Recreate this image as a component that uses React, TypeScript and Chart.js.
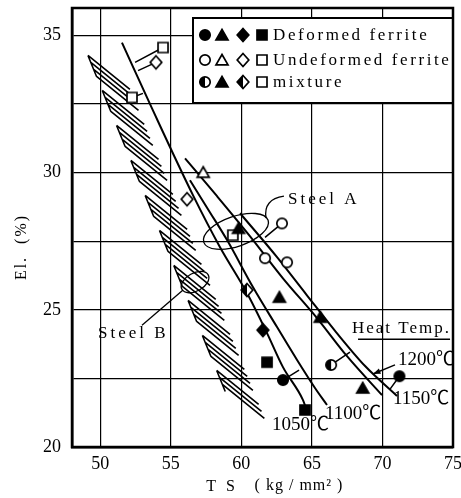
import React, { useEffect, useRef } from 'react';
import { Chart, registerables } from 'chart.js';
Chart.register(...registerables);

const FONT = '"Liberation Serif", "Times New Roman", serif';
const CJK = '"Liberation Serif", "Noto Sans CJK JP", serif';

// ---- axes ----
const TS_MIN = 48;
const TS_MAX = 75;
const EL_MIN = 20;
const EL_MAX = 36;
const TS_TICKS = [50, 55, 60, 65, 70, 75];
const EL_GRID = [20, 22.5, 25, 27.5, 30, 32.5, 35];
const EL_TICKS = [20, 25, 30, 35];

// ---- heat-temperature curves (TS, El.) ----
const C1050_TS = [51.54, 53.67, 56.58, 58.49, 60.4, 61.82, 62.95, 64.37, 64.58];
const C1050_EL = [34.74, 32.34, 29.17, 27.28, 25.61, 24.15, 22.91, 21.71, 21.42];
const C1100_TS = [56.36, 57.78, 58.99, 60.83, 62.53, 63.95, 65.22, 66.07];
const C1100_EL = [29.72, 28.55, 27.54, 25.82, 24.37, 23.17, 22.15, 21.53];
const C1150_TS = [56.01, 58.28, 60.62, 62.95, 65.36, 67.49, 69.97];
const C1150_EL = [30.52, 29.14, 27.68, 26.15, 24.7, 23.31, 21.89];
const C1200_TS = [59.91, 62.53, 64.65, 66.71, 68.77, 71.03];
const C1200_EL = [28.52, 26.92, 25.53, 24.19, 22.95, 21.86];

// ---- Steel B band (left / right edges, top & bottom) ----
const BAND_LEFT_TS = [49.13, 59.69];
const BAND_LEFT_EL = [34.27, 20.98];
const BAND_RIGHT_TS = [51.12, 61.68];
const BAND_RIGHT_EL = [34.27, 20.98];

// ---- measured points ----
const DEF_CIRCLE_TS = [62.95, 71.2];
const DEF_CIRCLE_EL = [22.44, 22.58];
const DEF_TRI_TS = [59.8, 62.7, 65.6, 68.6];
const DEF_TRI_EL = [27.97, 25.46, 24.73, 22.15];
const DEF_DIAM_TS = [61.53];
const DEF_DIAM_EL = [24.26];
const DEF_SQ_TS = [61.82, 64.51];
const DEF_SQ_EL = [23.09, 21.35];

const UND_CIRCLE_TS = [62.88, 61.68, 63.24];
const UND_CIRCLE_EL = [28.15, 26.88, 26.73];
const UND_TRI_TS = [57.3];
const UND_TRI_EL = [30.01];
const UND_DIAM_TS = [53.95, 56.15];
const UND_DIAM_EL = [34.02, 29.03];
const UND_SQ_TS = [54.45, 52.25, 59.4];
const UND_SQ_EL = [34.56, 32.74, 27.72];

const MIX_CIRCLE_TS = [66.36];
const MIX_CIRCLE_EL = [22.99];
const MIX_DIAM_TS = [60.4];
const MIX_DIAM_EL = [25.72];

// ---- short connectors from points to curves ----
const STEM_FROM_TS = [54.45, 53.95, 52.25, 62.88, 66.36, 71.2, 62.95];
const STEM_FROM_EL = [34.56, 34.02, 32.74, 28.15, 22.99, 22.58, 22.44];
const STEM_TO_TS = [52.47, 52.68, 53.03, 61.68, 67.7, 70.54, 64.09];
const STEM_TO_EL = [34.02, 33.72, 32.89, 27.64, 23.46, 22.11, 22.8];

// ---- annotations ----
const LEGEND_LABELS = ['Deformed ferrite', 'Undeformed ferrite', 'mixture'];
const TEMP_LABELS = ['1050℃', '1100℃', '1150℃', '1200℃'];
const TEMP_LABEL_TS = [62.17, 65.93, 70.75, 71.1];
const TEMP_LABEL_EL = [20.8, 21.2, 21.75, 23.17];
const HEAT_LABEL = 'Heat Temp.';
const HEAT_TS = 67.84;
const HEAT_EL = 24.3;
const HEAT_LINE_TS = [68.27, 74.79];
const HEAT_LINE_EL = 23.93;
const ARROW_TS = [70.89, 69.33];
const ARROW_EL = [22.99, 22.66];
const STEEL_A = 'Steel A';
const STEEL_A_TS = 63.31;
const STEEL_A_EL = 29.03;
const STEEL_A_ELLIPSE = [59.62, 27.86];
const STEEL_A_LEADER_TS = [63.02, 61.54, 61.75];
const STEEL_A_LEADER_EL = [29.14, 29.03, 28.34];
const STEEL_B = 'Steel B';
const STEEL_B_TS = 49.84;
const STEEL_B_EL = 24.15;
const STEEL_B_ELLIPSE = [56.72, 26.01];
const STEEL_B_LEADER_TS = [52.96, 55.87];
const STEEL_B_LEADER_EL = [24.44, 25.72];
const X_TITLE_A = 'T S';
const X_TITLE_B = '( kg / mm² )';
const Y_TITLE = 'El.  (%)';

type Shape = 'circle' | 'triangle' | 'diamond' | 'square';
type Fill = 'full' | 'open' | 'half';

function shapePath(ctx: CanvasRenderingContext2D, shape: Shape, c: number) {
  ctx.beginPath();
  if (shape === 'circle') {
    ctx.arc(c, c, 5.2, 0, Math.PI * 2);
  } else if (shape === 'triangle') {
    ctx.moveTo(c, c - 5.5);
    ctx.lineTo(c + 6, c + 4.8);
    ctx.lineTo(c - 6, c + 4.8);
    ctx.closePath();
  } else if (shape === 'diamond') {
    ctx.moveTo(c, c - 6.5);
    ctx.lineTo(c + 5.8, c);
    ctx.lineTo(c, c + 6.5);
    ctx.lineTo(c - 5.8, c);
    ctx.closePath();
  } else {
    ctx.rect(c - 5, c - 5, 10, 10);
  }
}

function makeMarker(shape: Shape, fill: Fill): HTMLCanvasElement {
  const s = 18;
  const c = s / 2;
  const cv = document.createElement('canvas');
  cv.width = s;
  cv.height = s;
  const ctx = cv.getContext('2d')!;
  ctx.lineWidth = 1.7;
  ctx.strokeStyle = '#000';
  shapePath(ctx, shape, c);
  ctx.fillStyle = fill === 'full' ? '#000' : '#fff';
  ctx.fill();
  if (fill === 'half') {
    ctx.save();
    ctx.beginPath();
    ctx.rect(0, 0, c, s);
    ctx.clip();
    shapePath(ctx, shape, c);
    ctx.fillStyle = '#000';
    ctx.fill();
    ctx.restore();
  }
  shapePath(ctx, shape, c);
  ctx.stroke();
  return cv;
}

const zip = (xs: number[], ys: number[]) => xs.map((x, i) => ({ x, y: ys[i] }));

export default function App() {
  const ref = useRef<HTMLCanvasElement>(null);

  useEffect(() => {
    const canvas = ref.current!;
    const M = {
      dc: makeMarker('circle', 'full'),
      dt: makeMarker('triangle', 'full'),
      dd: makeMarker('diamond', 'full'),
      ds: makeMarker('square', 'full'),
      oc: makeMarker('circle', 'open'),
      ot: makeMarker('triangle', 'open'),
      od: makeMarker('diamond', 'open'),
      os: makeMarker('square', 'open'),
      hc: makeMarker('circle', 'half'),
      hd: makeMarker('diamond', 'half'),
    };

    const curve = (ts: number[], el: number[]) => ({
      data: zip(ts, el),
      showLine: true,
      borderColor: '#000',
      borderWidth: 2,
      pointRadius: 0,
      cubicInterpolationMode: 'monotone' as const,
      fill: false,
      order: 2,
    });
    const pts = (ts: number[], el: number[], img: HTMLCanvasElement) => ({
      data: zip(ts, el),
      showLine: false,
      pointStyle: img,
      pointRadius: 6,
      order: 0,
    });

    const decor = {
      id: 'decor',
      beforeDatasetsDraw(chart: any) {
        const { ctx, scales } = chart;
        const X = (v: number) => scales.x.getPixelForValue(v);
        const Y = (v: number) => scales.y.getPixelForValue(v);
        ctx.save();
        ctx.strokeStyle = '#000';
        // hatched band (Steel B)
        const l0 = [X(BAND_LEFT_TS[0]), Y(BAND_LEFT_EL[0])];
        const l1 = [X(BAND_LEFT_TS[1]), Y(BAND_LEFT_EL[1])];
        const r0 = [X(BAND_RIGHT_TS[0]), Y(BAND_RIGHT_EL[0])];
        const r1 = [X(BAND_RIGHT_TS[1]), Y(BAND_RIGHT_EL[1])];
        const lx = (py: number) => l0[0] + ((l1[0] - l0[0]) * (py - l0[1])) / (l1[1] - l0[1]);
        const rx = (py: number) => r0[0] + ((r1[0] - r0[0]) * (py - r0[1])) / (r1[1] - r0[1]);
        ctx.lineWidth = 1.6;
        ctx.beginPath();
        const drop = 34;
        let k = 0;
        for (let py = l0[1]; py + drop <= l1[1] + 2; py += 7, k++) {
          if (k % 5 === 4) continue;
          ctx.moveTo(lx(py), py);
          ctx.lineTo(rx(py + drop), py + drop);
          if (k % 5 === 0) {
            ctx.moveTo(lx(py), py);
            ctx.lineTo(lx(py + 21), py + 21);
          }
        }
        ctx.stroke();
        // connectors
        ctx.lineWidth = 1.5;
        ctx.beginPath();
        STEM_FROM_TS.forEach((_, i) => {
          ctx.moveTo(X(STEM_FROM_TS[i]), Y(STEM_FROM_EL[i]));
          ctx.lineTo(X(STEM_TO_TS[i]), Y(STEM_TO_EL[i]));
        });
        ctx.stroke();
        // Steel A ellipse + leader
        ctx.lineWidth = 1.3;
        ctx.beginPath();
        ctx.ellipse(X(STEEL_A_ELLIPSE[0]), Y(STEEL_A_ELLIPSE[1]), 34, 15, -0.33, 0, Math.PI * 2);
        ctx.stroke();
        ctx.beginPath();
        ctx.moveTo(X(STEEL_A_LEADER_TS[0]), Y(STEEL_A_LEADER_EL[0]));
        ctx.quadraticCurveTo(
          X(STEEL_A_LEADER_TS[1]), Y(STEEL_A_LEADER_EL[1]),
          X(STEEL_A_LEADER_TS[2]), Y(STEEL_A_LEADER_EL[2])
        );
        ctx.stroke();
        // Steel B ellipse + leader
        ctx.beginPath();
        ctx.ellipse(X(STEEL_B_ELLIPSE[0]), Y(STEEL_B_ELLIPSE[1]), 15, 9, -0.5, 0, Math.PI * 2);
        ctx.stroke();
        ctx.beginPath();
        ctx.moveTo(X(STEEL_B_LEADER_TS[0]), Y(STEEL_B_LEADER_EL[0]));
        ctx.lineTo(X(STEEL_B_LEADER_TS[1]), Y(STEEL_B_LEADER_EL[1]));
        ctx.stroke();
        ctx.restore();
      },
      afterDatasetsDraw(chart: any) {
        const { ctx, scales, chartArea: ca } = chart;
        const X = (v: number) => scales.x.getPixelForValue(v);
        const Y = (v: number) => scales.y.getPixelForValue(v);
        ctx.save();
        ctx.fillStyle = '#000';
        ctx.strokeStyle = '#000';
        ctx.textBaseline = 'middle';
        ctx.textAlign = 'left';
        // legend box
        const bl = ca.left + 121;
        const bt = ca.top + 10;
        const bw = ca.right - bl;
        const bh = 85;
        ctx.fillStyle = '#fff';
        ctx.fillRect(bl, bt, bw, bh);
        ctx.lineWidth = 2;
        ctx.strokeRect(bl, bt, bw, bh);
        const rows = [
          [M.dc, M.dt, M.dd, M.ds],
          [M.oc, M.ot, M.od, M.os],
          [M.hc, M.dt, M.hd, M.os],
        ];
        const rowY = [17, 42, 64];
        const colX = [12, 29, 50, 69];
        ctx.fillStyle = '#000';
        ctx.font = `17px ${FONT}`;
        (ctx as any).letterSpacing = '2.6px';
        rows.forEach((r, i) => {
          r.forEach((img, j) => {
            ctx.drawImage(img, bl + colX[j] - 9, bt + rowY[i] - 9);
          });
          ctx.fillText(LEGEND_LABELS[i], bl + 80, bt + rowY[i] + 1);
        });
        // labels
        (ctx as any).letterSpacing = '3px';
        ctx.font = `17px ${FONT}`;
        ctx.fillText(STEEL_A, X(STEEL_A_TS), Y(STEEL_A_EL));
        ctx.fillText(STEEL_B, X(STEEL_B_TS), Y(STEEL_B_EL));
        (ctx as any).letterSpacing = '2px';
        ctx.fillText(HEAT_LABEL, X(HEAT_TS), Y(HEAT_EL));
        ctx.lineWidth = 1.5;
        ctx.beginPath();
        ctx.moveTo(X(HEAT_LINE_TS[0]), Y(HEAT_LINE_EL));
        ctx.lineTo(X(HEAT_LINE_TS[1]), Y(HEAT_LINE_EL));
        ctx.stroke();
        (ctx as any).letterSpacing = '0px';
        ctx.font = `19px ${CJK}`;
        TEMP_LABELS.forEach((t, i) => {
          ctx.fillText(t, X(TEMP_LABEL_TS[i]), Y(TEMP_LABEL_EL[i]));
        });
        // arrow
        const ax0 = X(ARROW_TS[0]);
        const ay0 = Y(ARROW_EL[0]);
        const ax1 = X(ARROW_TS[1]);
        const ay1 = Y(ARROW_EL[1]);
        ctx.lineWidth = 1.4;
        ctx.beginPath();
        ctx.moveTo(ax0, ay0);
        ctx.lineTo(ax1, ay1);
        ctx.stroke();
        const ang = Math.atan2(ay1 - ay0, ax1 - ax0);
        ctx.beginPath();
        ctx.moveTo(ax1, ay1);
        ctx.lineTo(ax1 - 8 * Math.cos(ang - 0.35), ay1 - 8 * Math.sin(ang - 0.35));
        ctx.lineTo(ax1 - 8 * Math.cos(ang + 0.35), ay1 - 8 * Math.sin(ang + 0.35));
        ctx.closePath();
        ctx.fill();
        // frame
        ctx.lineWidth = 2.5;
        ctx.strokeRect(ca.left, ca.top, ca.right - ca.left, ca.bottom - ca.top);
        // axis titles
        ctx.font = `16px ${FONT}`;
        (ctx as any).letterSpacing = '3px';
        ctx.textAlign = 'center';
        ctx.fillText(X_TITLE_A, 222, 487);
        (ctx as any).letterSpacing = '1px';
        ctx.fillText(X_TITLE_B, 299, 486);
        ctx.save();
        ctx.translate(22, 247);
        ctx.rotate(-Math.PI / 2);
        (ctx as any).letterSpacing = '2px';
        ctx.fillText(Y_TITLE, 0, 0);
        ctx.restore();
        ctx.restore();
      },
    };

    const chart = new Chart(canvas, {
      type: 'scatter',
      data: {
        datasets: [
          curve(C1050_TS, C1050_EL),
          curve(C1100_TS, C1100_EL),
          curve(C1150_TS, C1150_EL),
          curve(C1200_TS, C1200_EL),
          pts(DEF_CIRCLE_TS, DEF_CIRCLE_EL, M.dc),
          pts(DEF_TRI_TS, DEF_TRI_EL, M.dt),
          pts(DEF_DIAM_TS, DEF_DIAM_EL, M.dd),
          pts(DEF_SQ_TS, DEF_SQ_EL, M.ds),
          pts(UND_CIRCLE_TS, UND_CIRCLE_EL, M.oc),
          pts(UND_TRI_TS, UND_TRI_EL, M.ot),
          pts(UND_DIAM_TS, UND_DIAM_EL, M.od),
          pts(UND_SQ_TS, UND_SQ_EL, M.os),
          pts(MIX_CIRCLE_TS, MIX_CIRCLE_EL, M.hc),
          pts(MIX_DIAM_TS, MIX_DIAM_EL, M.hd),
        ] as any,
      },
      options: {
        responsive: false,
        animation: false,
        layout: { padding: { top: 8, right: 8, left: 0, bottom: 0 } },
        plugins: { legend: { display: false }, tooltip: { enabled: false } },
        scales: {
          x: {
            type: 'linear',
            min: TS_MIN,
            max: TS_MAX,
            afterBuildTicks: (s: any) => {
              s.ticks = TS_TICKS.map((v) => ({ value: v }));
            },
            afterFit: (s: any) => {
              s.height = 51;
              s.paddingLeft = 0;
              s.paddingRight = 0;
            },
            grid: { color: '#000', lineWidth: 1.2, drawTicks: false },
            border: { color: '#000', width: 2.5 },
            ticks: {
              color: '#000',
              font: { family: FONT, size: 18 },
              padding: 6,
              maxRotation: 0,
              autoSkip: false,
              callback: (v: any) => String(v),
            },
          },
          y: {
            type: 'linear',
            min: EL_MIN,
            max: EL_MAX,
            afterBuildTicks: (s: any) => {
              s.ticks = EL_GRID.map((v) => ({ value: v }));
            },
            afterFit: (s: any) => {
              s.width = 72;
              s.paddingTop = 0;
              s.paddingBottom = 0;
            },
            grid: { color: '#000', lineWidth: 1.2, drawTicks: false },
            border: { color: '#000', width: 2.5 },
            ticks: {
              color: '#000',
              font: { family: FONT, size: 18 },
              padding: 11,
              autoSkip: false,
              callback: (v: any) => (EL_TICKS.includes(v) ? String(v) : ''),
            },
          },
        },
      },
      plugins: [decor],
    } as any);
    return () => chart.destroy();
  }, []);

  return (
    <div style={{ position: 'absolute', left: 0, top: 0, width: 461, height: 498, background: '#fff' }}>
      <canvas ref={ref} width={461} height={498} style={{ display: 'block', width: 461, height: 498 }} />
    </div>
  );
}
